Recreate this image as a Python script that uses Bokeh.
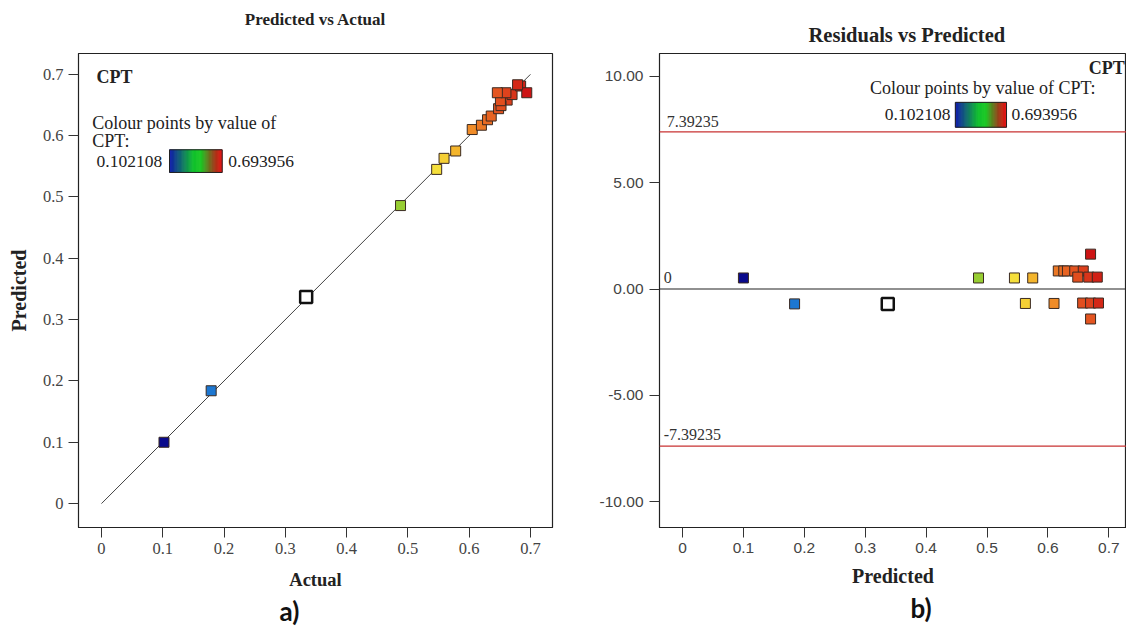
import numpy as np
from bokeh.plotting import figure
from bokeh.models import Range1d, Label, Span, Title, FixedTicker, ColumnDataSource, CustomJSTickFormatter
from bokeh.layouts import row
from bokeh.embed import file_html
from bokeh.resources import INLINE

# ---------------- data ----------------
actual = [0.102, 0.179, 0.334, 0.488, 0.547, 0.559, 0.578, 0.605, 0.620, 0.630, 0.636,
          0.648, 0.662, 0.652, 0.670, 0.684, 0.694, 0.651, 0.660, 0.679, 0.646]
predicted = [0.100, 0.184, 0.337, 0.486, 0.545, 0.563, 0.575, 0.610, 0.617, 0.626, 0.632,
             0.644, 0.658, 0.649, 0.667, 0.681, 0.670, 0.657, 0.670, 0.683, 0.670]
residuals = [0.52, -0.70, -0.70, 0.52, 0.52, -0.68, 0.52, -0.68, 0.85, 0.85, 0.85,
             0.85, 0.85, 0.56, 0.56, 0.56, 1.64, -0.66, -0.66, -0.66, -1.41]
highlighted = [False, False, True] + [False] * 18
cpt_min = 0.102108
cpt_max = 0.693956
axis_ticks = [0, 0.1, 0.2, 0.3, 0.4, 0.5, 0.6, 0.7]
res_ticks = [-10, -5, 0, 5, 10]
limit = 7.39235

# ---------------- colour scales ----------------
pt_t = [0.0, 0.13, 0.40, 0.65, 0.75, 0.80, 0.85, 0.92, 1.0]
pt_rgb = [(10, 10, 140), (30, 120, 210), (40, 190, 90), (150, 205, 50), (245, 225, 60),
          (245, 185, 45), (240, 140, 40), (228, 85, 32), (205, 20, 20)]
sw_t = [0.0, 0.45, 0.6, 0.85, 1.0]
sw_rgb = [(10, 20, 170), (10, 190, 40), (20, 200, 30), (150, 60, 20), (230, 10, 10)]


def cmap(t, ts, rgbs):
    r = np.interp(t, ts, [c[0] for c in rgbs])
    g = np.interp(t, ts, [c[1] for c in rgbs])
    b = np.interp(t, ts, [c[2] for c in rgbs])
    return "#%02x%02x%02x" % (int(r), int(g), int(b))


colors = [cmap((a - cpt_min) / (cpt_max - cpt_min), pt_t, pt_rgb) for a in actual]

data = dict(actual=actual, predicted=predicted, residuals=residuals, color=colors)
idx_n = [i for i, h in enumerate(highlighted) if not h]
idx_h = [i for i, h in enumerate(highlighted) if h]
src_n = ColumnDataSource({k: [v[i] for i in idx_n] for k, v in data.items()})
src_h = ColumnDataSource({k: [v[i] for i in idx_h] for k, v in data.items()})

SERIF = "Liberation Serif"


def style(p, tick_font, tick_size):
    p.grid.visible = False
    p.outline_line_color = "#222222"
    p.outline_line_width = 1.2
    for ax in p.axis:
        ax.axis_line_color = "#222222"
        ax.major_tick_line_color = "#333333"
        ax.major_tick_in = 0
        ax.major_tick_out = 10
        ax.minor_tick_line_color = None
        ax.major_label_text_font = tick_font
        ax.major_label_text_font_size = tick_size
        ax.major_label_text_color = "#444444"
        ax.major_label_standoff = 5
        ax.axis_label_text_font = SERIF
        ax.axis_label_text_font_style = "bold"
        ax.axis_label_text_color = "#222222"
    p.title.text_font = SERIF
    p.title.text_font_style = "bold"
    p.title.text_color = "#222222"


def swatch(p, x0, x1, y0, y1, n=60):
    xs = np.linspace(x0, x1, n + 1)
    cols = [cmap(i / (n - 1), sw_t, sw_rgb) for i in range(n)]
    p.quad(left=xs[:-1], right=xs[1:], bottom=y0, top=y1, fill_color=cols, line_color=cols, line_width=0.5)
    p.quad(left=[x0], right=[x1], bottom=[y0], top=[y1], fill_color=None, line_color="#222222", line_width=1)


def lab(p, x, y, text, size="18px", bold=False, align="left", font=SERIF, color="#222222"):
    p.add_layout(Label(x=x, y=y, text=text, text_font=font, text_font_size=size,
                       text_font_style="bold" if bold else "normal", text_align=align,
                       text_baseline="middle", text_color=color))


tick_fmt_1 = CustomJSTickFormatter(code="return Math.abs(tick) < 1e-9 ? '0' : tick.toFixed(1);")

# ---------------- left: predicted vs actual ----------------
p1 = figure(width=595, height=626, x_range=Range1d(-0.0375, 0.736), y_range=Range1d(-0.039, 0.734),
            output_backend="svg", toolbar_location=None, title="Predicted vs Actual\n ",
            min_border_left=78, min_border_right=43, min_border_top=53, min_border_bottom=99)
style(p1, SERIF, "16.5px")
p1.title.align = "center"
p1.title.text_font_size = "17px"
p1.title.standoff = 12
p1.xaxis.ticker = FixedTicker(ticks=axis_ticks)
p1.yaxis.ticker = FixedTicker(ticks=axis_ticks)
p1.xaxis.formatter = tick_fmt_1
p1.yaxis.formatter = tick_fmt_1
p1.xaxis.axis_label = "Actual"
p1.yaxis.axis_label = "Predicted"
p1.xaxis.axis_label_text_font_size = "18.5px"
p1.yaxis.axis_label_text_font_size = "20px"
p1.xaxis.axis_label_standoff = 13
p1.yaxis.axis_label_standoff = 10

diag = [0, axis_ticks[-1]]
p1.line(diag, diag, line_color="#444444", line_width=1)
p1.scatter("actual", "predicted", source=src_n, marker="square", size=10,
           fill_color="color", line_color="#3a2a22", line_width=1)
p1.scatter("actual", "predicted", source=src_h, marker="square", size=12,
           fill_color="white", line_color="#111111", line_width=2.5)

lab(p1, -0.008, 0.695, "CPT", size="18px", bold=True)
lab(p1, -0.015, 0.620, "Colour points by value of")
lab(p1, -0.015, 0.591, "CPT:")
lab(p1, -0.008, 0.558, "%g" % cpt_min, size="17.5px")
swatch(p1, 0.111, 0.197, 0.540, 0.577)
lab(p1, 0.207, 0.558, "%g" % cpt_max, size="17.5px")

p1.add_layout(Title(text="a)", align="left", offset=201, text_font="Lato", text_font_style="bold",
                    text_font_size="26px", text_color="#111111", standoff=0), "below")

# ---------------- right: residuals vs predicted ----------------
p2 = figure(width=531, height=626, x_range=Range1d(-0.0378, 0.729), y_range=Range1d(-11.22, 11.08),
            output_backend="svg", toolbar_location=None, title="Residuals vs Predicted",
            min_border_left=64, min_border_right=0, min_border_top=53, min_border_bottom=99)
style(p2, "Liberation Sans", "15.5px")
p2.title.align = "left"
p2.title.offset = 149
p2.title.text_font_size = "20.5px"
p2.title.standoff = 16
p2.yaxis.major_label_standoff = 6
p2.xaxis.ticker = FixedTicker(ticks=axis_ticks)
p2.yaxis.ticker = FixedTicker(ticks=res_ticks)
p2.xaxis.formatter = tick_fmt_1
p2.yaxis.formatter = CustomJSTickFormatter(code="return tick.toFixed(2);")
p2.xaxis.axis_label = "Predicted"
p2.xaxis.axis_label_standoff = 9
p2.xaxis.axis_label_text_font_size = "20px"

p2.add_layout(Span(location=0, dimension="width", line_color="#222222", line_width=1.2))
p2.add_layout(Span(location=limit, dimension="width", line_color="#c83232", line_width=1.2))
p2.add_layout(Span(location=-limit, dimension="width", line_color="#c83232", line_width=1.2))

p2.scatter("predicted", "residuals", source=src_n, marker="square", size=10,
           fill_color="color", line_color="#3a2a22", line_width=1)
p2.scatter("predicted", "residuals", source=src_h, marker="square", size=12,
           fill_color="white", line_color="#111111", line_width=2.5)

lab(p2, -0.026, limit + 0.5, "%g" % limit, size="16px", color="#333333")
lab(p2, -0.031, -limit + 0.55, "%g" % -limit, size="16px", color="#333333")
lab(p2, -0.031, 0.55, "0", size="16px", color="#333333")

lab(p2, 0.726, 10.42, "CPT", size="18px", bold=True, align="right")
lab(p2, 0.493, 9.44, "Colour points by value of CPT:", align="center")
lab(p2, 0.440, 8.22, "%g" % cpt_min, size="17.5px", align="right")
swatch(p2, 0.448, 0.532, 7.61, 8.78)
lab(p2, 0.540, 8.22, "%g" % cpt_max, size="17.5px")

p2.add_layout(Title(text="b)", align="left", offset=251, text_font="Lato", text_font_style="bold",
                    text_font_size="26px", text_color="#111111", standoff=0), "below")

layout = row(p1, p2)
open("out.html", "w").write(file_html(layout, INLINE))
